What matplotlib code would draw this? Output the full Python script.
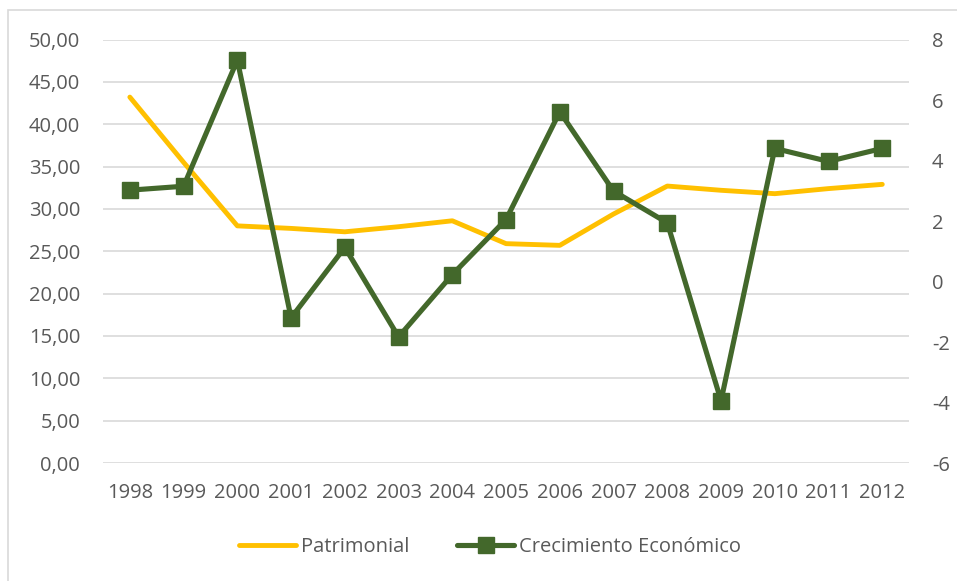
import matplotlib.pyplot as plt
from matplotlib.patches import Rectangle
from matplotlib.ticker import FuncFormatter, MultipleLocator

plt.rcParams['font.family'] = ['Open Sans', 'DejaVu Sans']

# data
years = ['1998', '1999', '2000', '2001', '2002', '2003', '2004', '2005',
         '2006', '2007', '2008', '2009', '2010', '2011', '2012']
patrimonial = [43.2, 35.5, 28.0, 27.7, 27.3, 27.9, 28.6, 25.9,
               25.7, 29.4, 32.7, 32.2, 31.8, 32.4, 32.9]
crecimiento = [3.02, 3.15, 7.32, -1.20, 1.13, -1.83, 0.23, 2.05,
               5.61, 2.99, 1.94, -3.94, 4.40, 3.97, 4.40]

yellow = '#FFC000'
green = '#43682B'
txt = '#595959'
grid = '#D9D9D9'
fs = 14.5

fig = plt.figure(figsize=(9.57, 5.81), dpi=100)
ax = fig.add_axes([0.1076, 0.203, 0.8424, 0.729])
ax2 = ax.twinx()

x = range(len(years))
l1, = ax.plot(x, patrimonial, color=yellow, lw=3.5, solid_capstyle='round',
              solid_joinstyle='round', label='Patrimonial', zorder=3)
l2, = ax2.plot(x, crecimiento, color=green, lw=3.7, marker='s', ms=11,
               solid_capstyle='round', label='Crecimiento Económico', zorder=4)

ax.set_xlim(-0.5, len(years) - 0.5)
ax.set_ylim(0, 50)
ax.yaxis.set_major_locator(MultipleLocator(5))
ax.yaxis.set_major_formatter(FuncFormatter(lambda v, p: f'{v:.2f}'.replace('.', ',')))
ax2.set_ylim(-6, 8)
ax2.yaxis.set_major_locator(MultipleLocator(2))
ax2.yaxis.set_major_formatter(FuncFormatter(lambda v, p: f'{v:g}'))

ax.set_xticks(list(x))
ax.set_xticklabels(years)
ax.grid(axis='y', color=grid, lw=1.2)
ax.set_axisbelow(True)

for a in (ax, ax2):
    for s in a.spines.values():
        s.set_visible(False)
    a.tick_params(length=0, labelsize=fs, labelcolor=txt)
ax.tick_params(axis='y', pad=16.5)
ax.tick_params(axis='x', pad=14)
ax2.tick_params(axis='y', pad=16.5)

fig.legend(handles=[l1, l2], loc='center', bbox_to_anchor=(0.512, 0.058),
           ncol=2, frameon=False, fontsize=fs, labelcolor=txt,
           handlelength=2.8, handletextpad=0.25, columnspacing=2.4)

# light border around the chart area (right and bottom edges fall outside)
fig.patches.append(Rectangle((8 / 957, -0.05), 1.0, 1.05 - 10.5 / 581,
                             transform=fig.transFigure, fill=False,
                             edgecolor=grid, lw=1.2, zorder=0))

fig.savefig('out.png', dpi=100)
